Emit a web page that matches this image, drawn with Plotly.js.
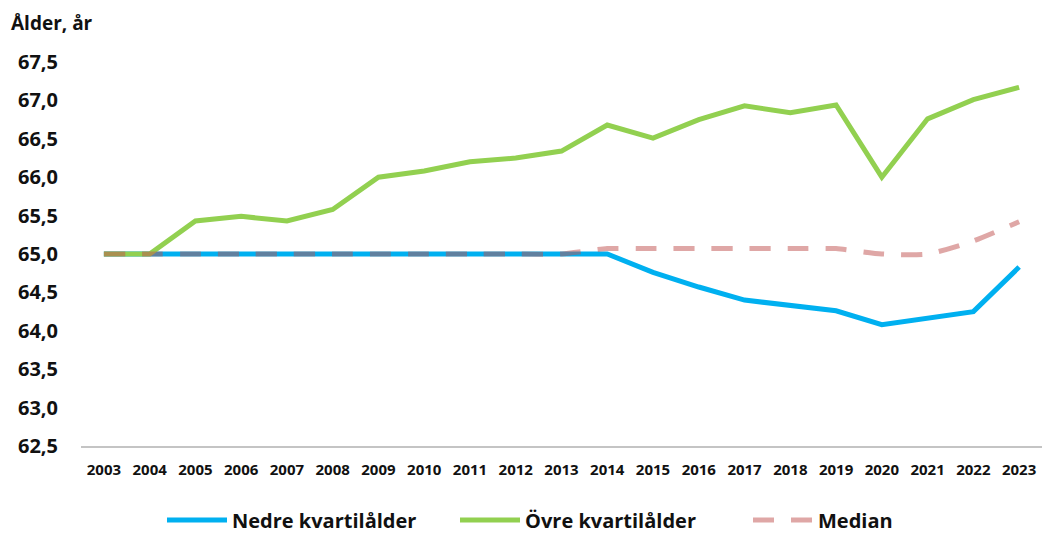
<!DOCTYPE html>
<html>
<head>
<meta charset="utf-8">
<script src="https://cdn.plot.ly/plotly-3.0.1.min.js"></script>
<style>html,body{margin:0;padding:0;background:#fff;}#chart{width:1042px;height:535px;}</style>
</head>
<body>
<div id="chart"></div>
<script>
var years = ["2003","2004","2005","2006","2007","2008","2009","2010","2011","2012","2013","2014","2015","2016","2017","2018","2019","2020","2021","2022","2023"];
var nedre = [65.0,65.0,65.0,65.0,65.0,65.0,65.0,65.0,65.0,65.0,65.0,65.0,64.76,64.57,64.40,64.33,64.26,64.08,64.16,64.25,64.83];
var ovre = [65.0,65.0,65.43,65.49,65.43,65.58,66.0,66.08,66.2,66.25,66.34,66.68,66.51,66.75,66.93,66.84,66.94,66.0,66.76,67.01,67.17];
var median = [65.0,65.0,65.0,65.0,65.0,65.0,65.0,65.0,65.0,65.0,65.0,65.07,65.07,65.07,65.07,65.07,65.07,65.0,65.0,65.17,65.42];
var seriesNames = ["Nedre kvartilålder","Övre kvartilålder","Median"];
var yTitle = "Ålder, år";

var FONT = "'Open Sans', 'Noto Sans', sans-serif";
var traces = [
  {x: years, y: nedre, name: seriesNames[0], type: 'scatter', mode: 'lines',
   line: {color: '#00B0F0', width: 5}},
  {x: years, y: ovre, name: seriesNames[1], type: 'scatter', mode: 'lines',
   line: {color: '#92D050', width: 5}},
  {x: years, y: median, name: seriesNames[2], type: 'scatter', mode: 'lines',
   line: {color: 'rgba(192,80,77,0.5)', width: 5, dash: '21px,17px', shape: 'spline', smoothing: 0.6}}
];
var layout = {
  width: 1042, height: 535,
  margin: {l: 81, r: 0, t: 62, b: 88.5},
  paper_bgcolor: '#fff', plot_bgcolor: '#fff',
  separators: ', ',
  showlegend: true,
  title: {text: '<b>' + yTitle + '</b>', x: 11/1042, xref: 'container', xanchor: 'left',
          y: 1 - 23/535, yref: 'container', yanchor: 'middle',
          font: {family: FONT, size: 19, color: '#111'}},
  xaxis: {type: 'category', range: [-0.5, 20.5], showgrid: false, zeroline: false,
          showline: true, linecolor: '#c4c4c4', linewidth: 2, ticks: '', ticklabelstandoff: 9,
          tickfont: {family: FONT, size: 15, color: '#111', weight: 'bold'},
          fixedrange: true},
  yaxis: {range: [62.5, 67.5], dtick: 0.5, tick0: 62.5, tickformat: '.1f', showgrid: false,
          zeroline: false, showline: false, ticks: '', ticklabelstandoff: 22,
          tickfont: {family: FONT, size: 20, color: '#111', weight: 'bold'},
          fixedrange: true},
  legend: {orientation: 'h', xref: 'container', yref: 'container', x: 162/1042, xanchor: 'left',
           y: 1 - 520/535, yanchor: 'middle',
           font: {family: FONT, size: 20, color: '#111', weight: 'bold'},
           itemwidth: 60, tracegroupgap: 0, entrywidth: 218, entrywidthmode: 'pixels'},
  hovermode: false
};
Plotly.newPlot('chart', traces, layout, {displayModeBar: false, staticPlot: true});
</script>
</body>
</html>
